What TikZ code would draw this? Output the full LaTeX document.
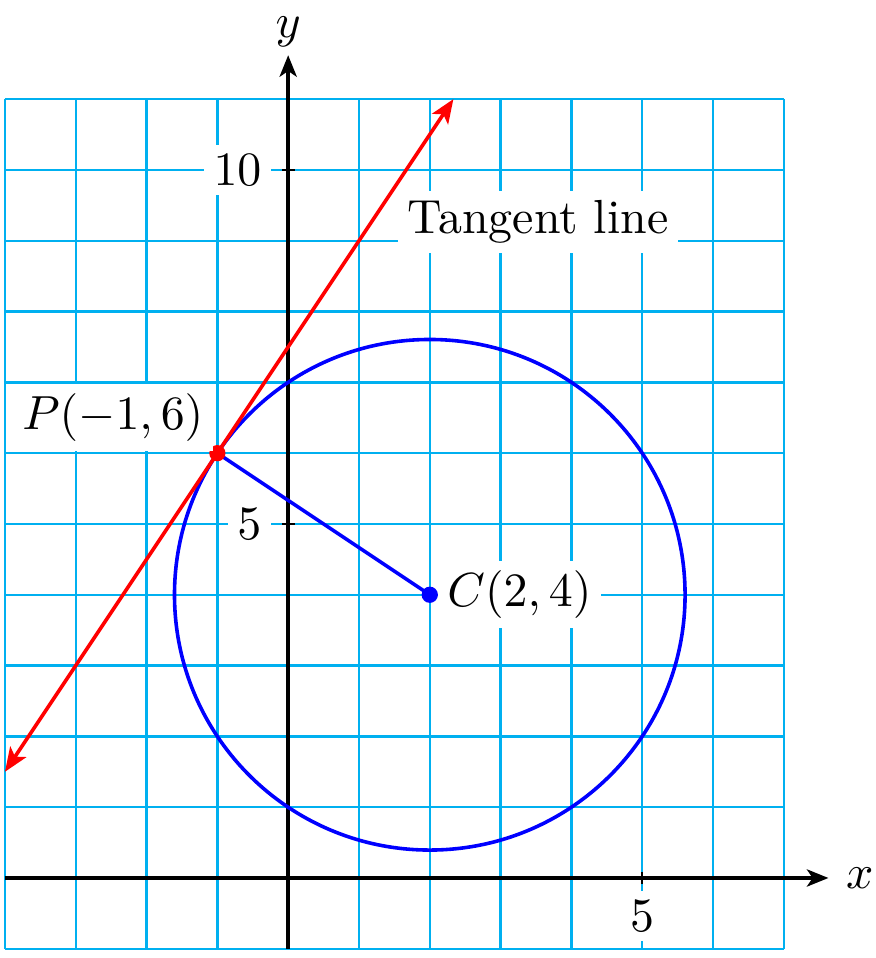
\documentclass[tikz,border=0pt]{standalone}
\usepackage{amsmath}
\usepackage{xcolor}
\usetikzlibrary{arrows.meta}
\definecolor{gridcyan}{RGB}{0,176,240}

\begin{document}
\begin{tikzpicture}[
  x=0.52cm, y=0.52cm,
  gridline/.style = {draw=gridcyan, line width=0.5pt},
  axis/.style = {-{Stealth[length=4.5pt, width=3.6pt, inset=1.2pt]}, line width=0.7pt, black},
  tickmark/.style = {line width=0.5pt, black},
  ticklbl/.style = {fill=white, inner sep=2pt},
  lbl/.style = {fill=white, inner sep=2pt},
  tangent/.style = {{Stealth[length=5pt, width=4pt, inset=1.2pt]}-{Stealth[length=5pt, width=4pt, inset=1.2pt]}, line width=0.75pt, red},
  radiusline/.style = {line width=0.75pt, blue},
  dot/.style = {circle, inner sep=0pt, minimum size=3.4pt}
]
\useasboundingbox (-4.07,-1.13) rectangle (8.29,12.40);

% grid and axes
\draw[gridline, step=1] (-4,-1) grid (7,11);
\coordinate (xstart) at (-4,0);
\coordinate (xend)   at (7.63,0);
\coordinate (ystart) at (0,-1);
\coordinate (yend)   at (0,11.62);
\draw[axis] (xstart) -- (xend) node[right] (xlbl) {$x$};
\draw[axis] (ystart) -- (yend) node[above, inner sep=1.5pt] (ylbl) {$y$};

% ticks
\draw[tickmark] (5,0.09) -- (5,-0.09);
\draw[tickmark] (0.09,5) -- (-0.09,5);
\draw[tickmark] (0.09,10) -- (-0.09,10);
\node[ticklbl, anchor=north] (xfive) at (5,-0.17) {$5$};
\node[ticklbl, anchor=east]  (yfive) at (-0.23,5) {$5$};
\node[ticklbl, anchor=east]  (yten)  at (-0.23,10) {$10$};

% circle, radius and tangent line
\coordinate (C) at (2,4);
\coordinate (P) at (-1,6);
\coordinate (T1) at (-4,1.5);
\coordinate (T2) at (7/3,11);
\draw[radiusline] (C) circle [radius={sqrt(13)}];
\draw[radiusline] (P) -- (C);
\draw[tangent] (T1) -- (T2);
\node[dot, fill=blue] (Cdot) at (C) {};
\node[dot, fill=red]  (Pdot) at (P) {};

% labels
\node[lbl, anchor=west] (Clbl) at (2.1,4) {$C(2,4)$};
\node[lbl, anchor=south east] (Plbl) at (-1.05,6.02) {$P(-1,6)$};
\node[lbl] (tanlbl) at (3.53,9.27) {Tangent line};
\end{tikzpicture}
\end{document}
